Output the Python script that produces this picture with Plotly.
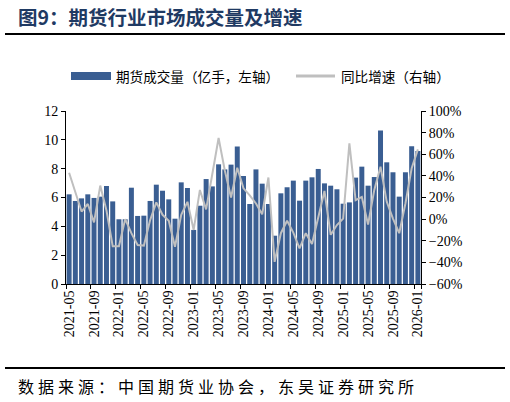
import plotly.graph_objects as go

months = [
    "2021-05", "2021-06", "2021-07", "2021-08", "2021-09", "2021-10", "2021-11", "2021-12",
    "2022-01", "2022-02", "2022-03", "2022-04", "2022-05", "2022-06", "2022-07", "2022-08",
    "2022-09", "2022-10", "2022-11", "2022-12",
    "2023-01", "2023-02", "2023-03", "2023-04", "2023-05", "2023-06", "2023-07", "2023-08",
    "2023-09", "2023-10", "2023-11", "2023-12",
    "2024-01", "2024-02", "2024-03", "2024-04", "2024-05", "2024-06", "2024-07", "2024-08",
    "2024-09", "2024-10", "2024-11", "2024-12",
    "2025-01", "2025-02", "2025-03", "2025-04", "2025-05", "2025-06", "2025-07", "2025-08",
    "2025-09", "2025-10", "2025-11", "2025-12",
    "2026-01",
]

# 期货成交量（亿手）
volume = [
    6.22, 5.76, 5.94, 6.22, 5.97, 6.06, 6.80, 5.73,
    4.49, 4.49, 6.68, 4.72, 4.74, 5.76, 6.89, 6.47, 5.87, 4.53, 7.05, 6.66,
    3.75, 5.43, 7.28, 6.77, 8.30, 7.95, 8.28, 9.53, 7.49, 5.55, 7.95, 6.96,
    5.55, 3.35, 6.29, 6.71, 7.17, 5.78, 7.17, 7.40, 7.98, 6.98, 6.82, 6.57,
    5.57, 5.66, 7.38, 8.14, 6.82, 7.42, 10.64, 8.44, 7.75, 6.06, 7.75, 9.55,
    9.23,
]

# 同比增速（%）
growth = [
    42.9, 25.0, 7.0, 14.0, -3.0, 31.0, 8.0, -25.0,
    -25.0, 0.0, -13.0, -24.0, -24.5, -1.0, 15.5, 4.0, -1.5, -25.5, 4.0, 16.0,
    -10.0, 27.0, 9.0, 42.0, 75.0, 45.0, 20.0, 47.5, 28.5, 22.0, 14.5, 4.5,
    38.5, -39.5, -13.0, -1.5, -12.5, -27.0, -13.0, -23.0, 2.0, 26.0, -14.5, -5.5,
    0.5, 70.0, 17.5, 20.5, -5.0, 27.0, 48.5, 16.0, 0.5, -13.0, 14.5, 47.0,
    64.5,
]

x_tick_labels = months[::4]

title_text = "图9：期货行业市场成交量及增速"
bar_name = "期货成交量（亿手，左轴）"
line_name = "同比增速（右轴）"
source_text = "数据来源：中国期货业协会，东吴证券研究所"

BAR_COLOR = "#3A5E92"
LINE_COLOR = "#BFBFBF"
CJK = "Noto Sans CJK SC"
SERIF = "Liberation Serif"

W, H = 510, 402
L, R, T, B = 66, 421, 111, 284


def px(x):
    return (x - L) / (R - L)


def py(y):
    return (B - y) / (B - T)


fig = go.Figure()
fig.add_trace(go.Bar(
    x=months, y=volume, name=bar_name,
    marker=dict(color=BAR_COLOR, line=dict(width=0)),
    yaxis="y",
))
fig.add_trace(go.Scatter(
    x=months, y=growth, name=line_name, mode="lines",
    line=dict(color=LINE_COLOR, width=2),
    yaxis="y2",
))

axis_font = dict(family=SERIF, size=14, color="#000000")

fig.update_layout(
    width=W, height=H,
    margin=dict(l=L, r=W - R, t=T, b=H - B, pad=0),
    paper_bgcolor="white", plot_bgcolor="white",
    showlegend=False,
    bargap=0.2,
    xaxis=dict(
        type="category",
        range=[-0.5, len(months) - 0.5],
        tickmode="array", tickvals=x_tick_labels, ticktext=x_tick_labels,
        tickson="boundaries",
        tickangle=-90,
        ticks="outside", ticklen=4, tickcolor="#000000",
        showline=True, linecolor="#000000", linewidth=1,
        showgrid=False, zeroline=False,
        tickfont=axis_font,
    ),
    yaxis=dict(
        range=[0, 12], dtick=2, tick0=0,
        ticks="outside", ticklen=4, tickcolor="#000000",
        showline=True, linecolor="#000000", linewidth=1,
        showgrid=False, zeroline=False,
        tickfont=axis_font,
    ),
    yaxis2=dict(
        overlaying="y", side="right",
        range=[-60, 100], dtick=20, tick0=-60,
        ticksuffix="%",
        ticks="outside", ticklen=4, tickcolor="#000000",
        showline=True, linecolor="#000000", linewidth=1,
        showgrid=False, zeroline=False,
        tickfont=axis_font,
    ),
)

shapes = [
    # title underline
    dict(type="line", xref="paper", yref="paper",
         x0=px(5), x1=px(505), y0=py(34), y1=py(34),
         line=dict(color="#000000", width=2)),
    # footer line
    dict(type="line", xref="paper", yref="paper",
         x0=px(5), x1=px(505), y0=py(368), y1=py(368),
         line=dict(color="#000000", width=2)),
    # legend swatches
    dict(type="rect", xref="paper", yref="paper",
         x0=px(71), x1=px(111), y0=py(80), y1=py(72),
         fillcolor=BAR_COLOR, line=dict(width=0)),
    dict(type="line", xref="paper", yref="paper",
         x0=px(296), x1=px(335), y0=py(76), y1=py(76),
         line=dict(color=LINE_COLOR, width=3)),
]

annotations = [
    dict(text="<b>" + title_text + "</b>", xref="paper", yref="paper",
         x=px(16), y=py(16), xanchor="left", yanchor="middle", align="left",
         showarrow=False,
         font=dict(family=CJK, size=19.5, color="#1F3A63")),
    dict(text=bar_name, xref="paper", yref="paper",
         x=px(114), y=py(76), xanchor="left", yanchor="middle", align="left",
         showarrow=False,
         font=dict(family=CJK, size=13.6, color="#000000")),
    dict(text=line_name, xref="paper", yref="paper",
         x=px(339), y=py(76), xanchor="left", yanchor="middle", align="left",
         showarrow=False,
         font=dict(family=CJK, size=13.6, color="#000000")),
    dict(text=source_text, xref="paper", yref="paper",
         x=px(16), y=py(386), xanchor="left", yanchor="middle", align="left",
         showarrow=False,
         font=dict(family=CJK, size=16, color="#000000")),
]

fig.update_layout(shapes=shapes, annotations=annotations)

post = """
document.body.style.margin = '0px';
document.body.style.padding = '0px';
var t = document.querySelectorAll('.annotation-text');
if (t.length >= 4) { t[3].style.letterSpacing = '4px'; }
"""

fig.write_html("out.html", post_script=post, config={"displayModeBar": False})
